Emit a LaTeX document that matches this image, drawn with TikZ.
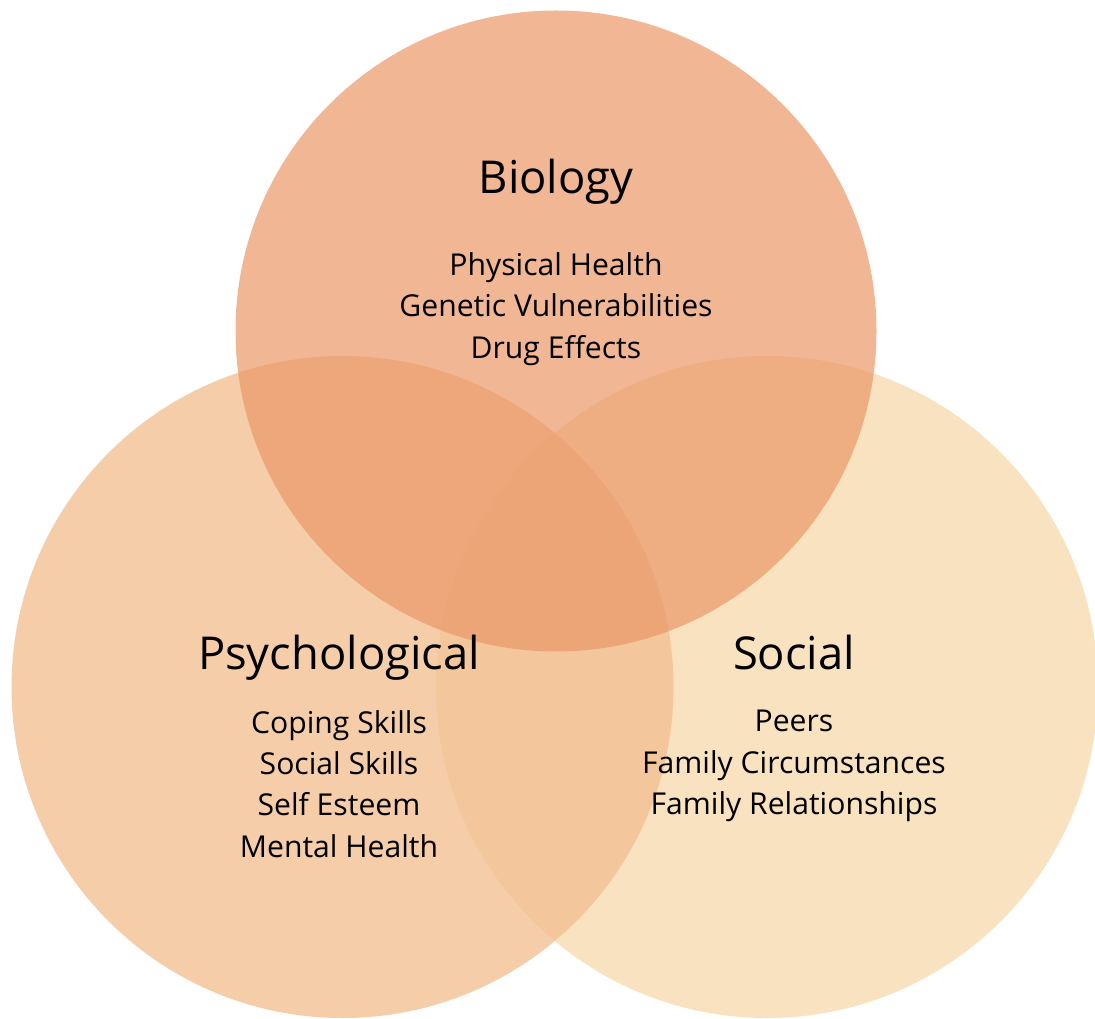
\documentclass[tikz,border=0pt]{standalone}
\usepackage{fontspec}
\setmainfont{Open Sans}
\usepackage{tikz}
\tikzset{every picture/.style={line width=0.75pt}}
\tikzset{
  heading/.style={anchor=base, font=\fontsize{34}{40}\selectfont},
  items/.style={anchor=center, align=center, font=\fontsize{22.6}{30.9}\selectfont}
}

\begin{document}
\begin{tikzpicture}[x=0.75pt,y=0.75pt,yscale=-1,xscale=1]
		%set diagram size to 1095 x 1019
		\path[use as bounding box] (0,0) rectangle (1095,1019);
		\clip (0,0) rectangle (1095,1019);
		
		%Shape: Circle [social]
		\fill [color={rgb, 255:red, 245; green, 207; blue, 148 }  ,fill opacity=0.6 ] (767,687) circle (331) ;
		
		%Shape: Circle [psychological]
		\fill [color={rgb, 255:red, 242; green, 192; blue, 147 }  ,fill opacity=0.8 ] (342.5,687) circle (331) ;
		
		%Shape: Circle [biology]
		\fill [color={rgb, 255:red, 235; green, 152; blue, 104 }  ,fill opacity=0.7 ] (556,331) circle (320.5) ;
		
		%Headings
		\node [heading] (bio) at (556,194) {Biology};
		\node [heading] (psych) at (339,669) {Psychological};
		\node [heading] (soc) at (794,669) {Social};
		
		%Factors
		\node [items] (bioitems) at (556,309) {Physical Health\\Genetic Vulnerabilities\\Drug Effects};
		\node [items] (psychitems) at (339,784) {Coping Skills\\Social Skills\\Self Esteem\\Mental Health};
		\node [items] (socitems) at (794,766) {Peers\\Family Circumstances\\Family Relationships};
		
\end{tikzpicture}
\end{document}
